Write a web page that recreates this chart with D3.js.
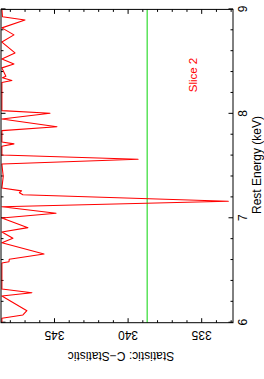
<!DOCTYPE html>
<html>
<head>
<meta charset="utf-8">
<script src="https://cdn.jsdelivr.net/npm/d3@7"></script>
<style>
  body { margin: 0; padding: 0; background: white; }
  svg { display: block; }
</style>
</head>
<body>
<div class="chart"></div>
<script>
// energy (keV) and C-statistic
var energy = [9.00, 8.93, 8.899, 8.823, 8.756, 8.687, 8.583, 8.526, 8.478, 8.44,
  8.36, 8.345, 8.32, 8.30, 8.031, 8.006, 7.951, 7.877, 7.839, 7.73,
  7.712, 7.69, 7.606, 7.565, 7.52, 7.40, 7.29, 7.262, 7.245, 7.225,
  7.163, 7.111, 7.048, 7.003, 6.91, 6.869, 6.808, 6.766, 6.658, 6.607,
  6.584, 6.572, 6.323, 6.287, 6.256, 6.115, 6.074, 6.042, 6.00];
var cstat = [348.54, 348.50, 346.97, 348.54, 347.72, 348.54, 347.65, 348.54, 347.72, 348.54,
  348.27, 348.50, 347.86, 348.54, 348.54, 345.27, 348.54, 344.80, 348.54, 348.54,
  347.72, 348.54, 348.54, 339.29, 348.54, 348.45, 348.54, 347.20, 347.35, 347.11,
  333.16, 348.54, 344.86, 348.54, 346.77, 348.54, 347.79, 348.54, 345.68, 348.04,
  348.06, 348.54, 348.54, 346.50, 348.54, 346.84, 347.11, 348.54, 348.54];
var refLevel = [338.67];
var energyTicks = [6, 7, 8, 9];
var statTicks = [335, 340, 345];
var sliceLabel = 'Slice 2';

var W = 264, H = 379;
var font = '"Liberation Sans", Arial, sans-serif';

function drawChart() {
  var svg = d3.select('.chart').append('svg')
    .attr('width', W)
    .attr('height', H);

  svg.append('rect').attr('width', W).attr('height', H).attr('fill', 'white');

  // the whole plot is laid out landscape, then turned a quarter turn
  var g = svg.append('g').attr('transform', 'translate(0,' + H + ') rotate(-90)');

  var x = d3.scaleLinear().domain([6, 9]).range([56.3, 369.6]);
  var y = d3.scaleLinear().domain([348.6, 332.84]).range([1, 233]);
  var x0 = x.range()[0], x1 = x.range()[1], y0 = y.range()[0], y1 = y.range()[1];

  var minorE = d3.range(60, 91, 2).map(function(d) { return d / 10; })
    .filter(function(d) { return energyTicks.indexOf(d) < 0; });
  var minorS = d3.range(333, 349).filter(function(d) { return statTicks.indexOf(d) < 0; });

  function addAxis(gen, tx, ty) {
    var a = g.append('g').attr('transform', 'translate(' + tx + ',' + ty + ')').call(gen);
    a.select('.domain').remove();
    a.selectAll('line').attr('stroke', 'black').attr('stroke-width', 1);
    return a;
  }

  // ticks inside the frame on all four sides
  var bottom = addAxis(d3.axisBottom(x).tickValues(energyTicks).tickSize(-4.5).tickFormat(d3.format('d')), 0, y1);
  addAxis(d3.axisBottom(x).tickValues(minorE).tickSize(-2.5).tickFormat(''), 0, y1);
  addAxis(d3.axisTop(x).tickValues(energyTicks).tickSize(-4.5).tickFormat(''), 0, y0);
  addAxis(d3.axisTop(x).tickValues(minorE).tickSize(-2.5).tickFormat(''), 0, y0);
  var left = addAxis(d3.axisLeft(y).tickValues(statTicks).tickSize(-4.5).tickFormat(d3.format('d')), x0, 0);
  addAxis(d3.axisLeft(y).tickValues(minorS).tickSize(-2.5).tickFormat(''), x0, 0);
  addAxis(d3.axisRight(y).tickValues(statTicks).tickSize(-4.5).tickFormat(''), x1, 0);
  addAxis(d3.axisRight(y).tickValues(minorS).tickSize(-2.5).tickFormat(''), x1, 0);

  bottom.selectAll('text')
    .attr('y', 14).attr('dy', 0)
    .style('font-family', font).style('font-size', '12px').attr('fill', 'black');

  left.selectAll('text')
    .attr('x', 0).attr('dy', 0)
    .attr('transform', 'translate(-8,0) rotate(-90)')
    .attr('text-anchor', 'middle')
    .style('font-family', font).style('font-size', '12px').attr('fill', 'black');

  // reference level
  g.selectAll('.ref').data(refLevel).enter().append('line')
    .attr('x1', x0).attr('x2', x1)
    .attr('y1', function(d) { return y(d); })
    .attr('y2', function(d) { return y(d); })
    .attr('stroke', '#33dd33').attr('stroke-width', 1.2);

  var pts = energy.map(function(e, i) { return [e, cstat[i]]; });
  var line = d3.line()
    .x(function(d) { return x(d[0]); })
    .y(function(d) { return y(d[1]); });

  g.append('path').datum(pts)
    .attr('d', line)
    .attr('fill', 'none')
    .attr('stroke', 'red')
    .attr('stroke-width', 1.1)
    .attr('stroke-linejoin', 'round');

  g.append('rect')
    .attr('x', x0).attr('y', y0)
    .attr('width', x1 - x0).attr('height', y1 - y0)
    .attr('fill', 'none').attr('stroke', 'black').attr('stroke-width', 1);

  g.append('text')
    .attr('x', 214).attr('y', 261)
    .attr('text-anchor', 'middle')
    .style('font-family', font).style('font-size', '12px')
    .text('Rest Energy (keV)');

  g.append('text')
    .attr('transform', 'translate(27,121) rotate(-90)')
    .attr('text-anchor', 'middle')
    .style('font-family', font).style('font-size', '12px')
    .text('Statistic: C\u2212Statistic');

  g.append('text')
    .attr('x', 304).attr('y', 197)
    .attr('text-anchor', 'middle')
    .attr('fill', 'red')
    .style('font-family', font).style('font-size', '11.5px')
    .text(sliceLabel);
}

drawChart();
</script>
</body>
</html>
